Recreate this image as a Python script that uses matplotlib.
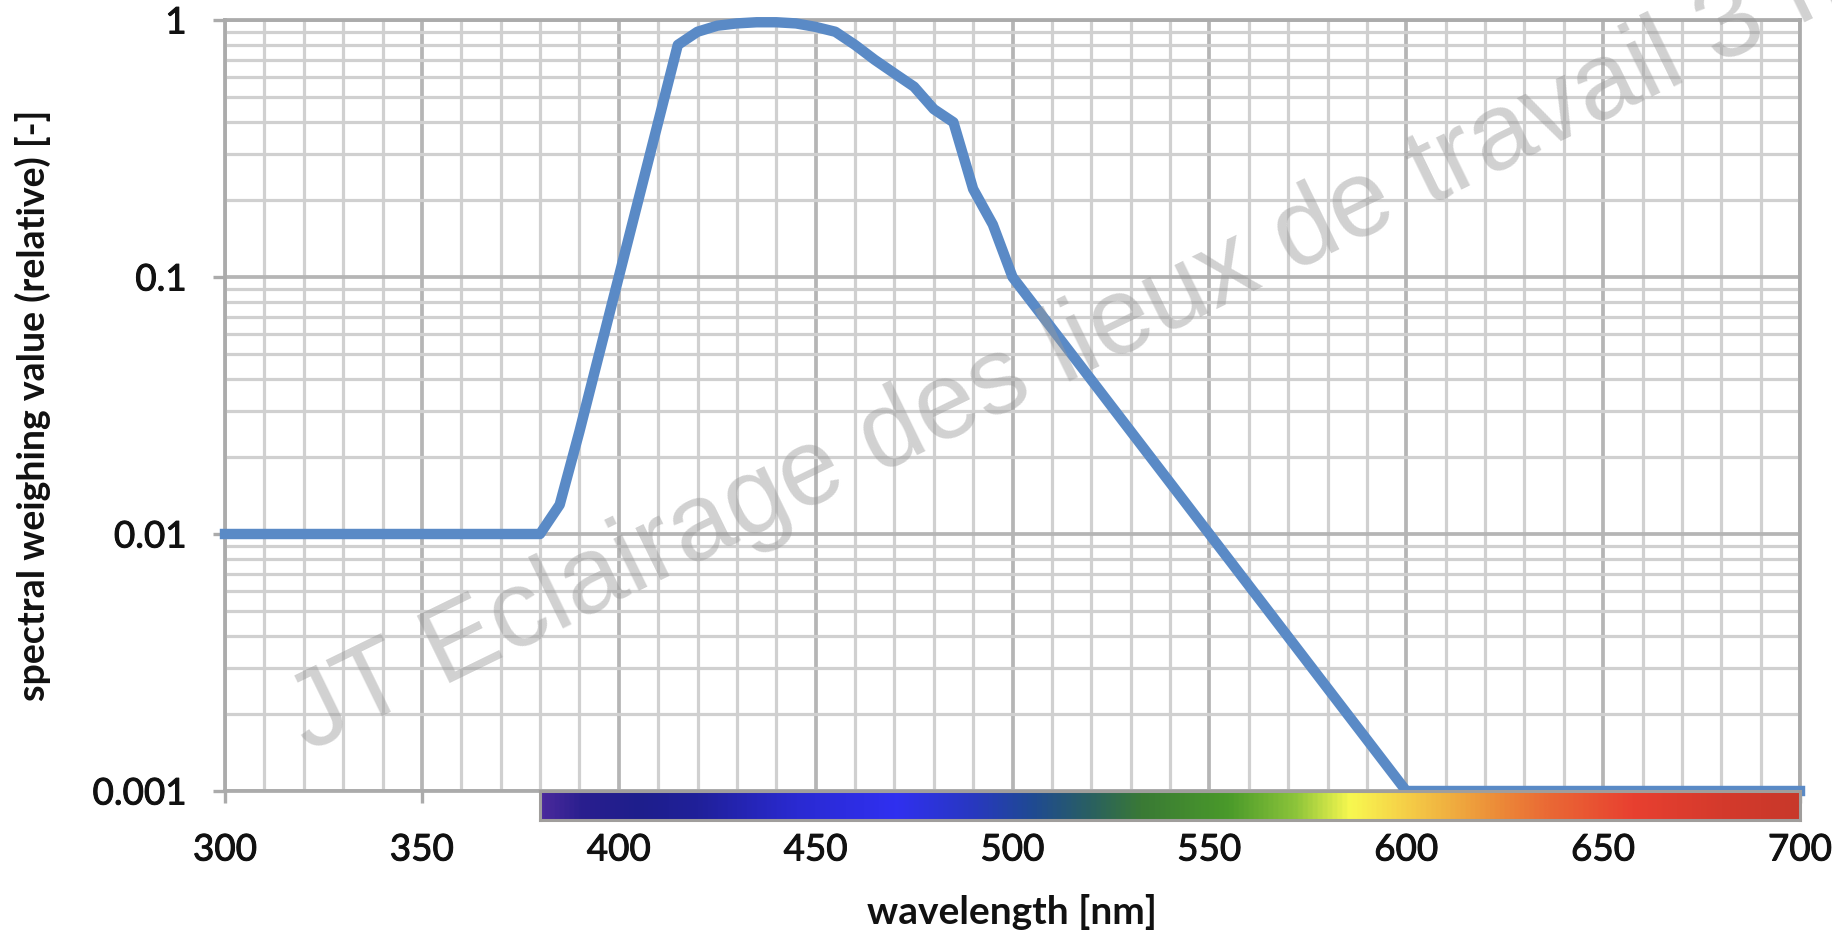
import numpy as np
import matplotlib
matplotlib.use("Agg")
import matplotlib.pyplot as plt
import matplotlib.patheffects as pe
from matplotlib.colors import LinearSegmentedColormap
from matplotlib.ticker import MultipleLocator, LogLocator, FixedLocator, FixedFormatter, NullFormatter

# blue light hazard weighting B(lambda)
wavelength = [300, 380, 385, 390, 395, 400, 405, 410, 415, 420, 425, 430, 435, 440,
              445, 450, 455, 460, 465, 470, 475, 480, 485, 490, 495, 500, 600, 700]
weighting = [0.01, 0.01, 0.013, 0.025, 0.05, 0.1, 0.2, 0.4, 0.8, 0.9, 0.95, 0.97, 0.98, 0.98,
             0.97, 0.94, 0.9, 0.8, 0.7, 0.62, 0.55, 0.45, 0.4, 0.22, 0.16, 0.1, 0.001, 0.001]

x_ticks = [300, 350, 400, 450, 500, 550, 600, 650, 700]
y_ticks = [0.001, 0.01, 0.1, 1]
y_tick_labels = ["0.001", "0.01", "0.1", "1"]

# spectrum strip under the axis (380-700 nm)
spec_start, spec_end = 380, 700
spec_nm = [380, 390, 405, 420, 445, 470, 490, 505, 520, 533, 555, 572, 586, 599, 611, 624, 636, 658, 681, 700]
spec_col = ["#4b2a9c", "#2a1f8f", "#1e1e8c", "#20209a", "#2a2ad2", "#3030f0", "#2838c0", "#1f4a92",
            "#2a6060", "#3a7a35", "#4a9a2a", "#8cc43a", "#f8f850", "#f6d248", "#f0b040", "#ec8a38",
            "#ea6a35", "#e84030", "#d43a2c", "#c8382a"]

watermark = "JT Eclairage des lieux de travail 3 mai"

fig = plt.figure(figsize=(18.32, 9.34), dpi=100)
ax = fig.add_axes([225/1832, 1-791/934, 1575/1832, 771/934])

ax.set_yscale("log")
ax.set_xlim(300, 700)
ax.set_ylim(0.001, 1)

ax.plot(wavelength, weighting, color="#5a8ac6", lw=7.5, solid_joinstyle="round", zorder=3, clip_on=False)

ax.xaxis.set_major_locator(FixedLocator(x_ticks))
ax.xaxis.set_minor_locator(MultipleLocator(10))
ax.yaxis.set_major_locator(FixedLocator(y_ticks))
ax.yaxis.set_major_formatter(FixedFormatter(y_tick_labels))
ax.yaxis.set_minor_locator(LogLocator(base=10, subs=np.arange(2, 10)))
ax.yaxis.set_minor_formatter(NullFormatter())

ax.grid(which="minor", color="#d0d0d0", lw=2.3)
ax.grid(which="major", color="#b5b5b5", lw=2.7)
ax.set_axisbelow(True)

for s in ax.spines.values():
    s.set_color("#ababab")
    s.set_linewidth(2.7)

ax.tick_params(which="major", direction="out", length=8.6, width=2.4, color="#ababab",
               labelsize=26.5)
ax.tick_params(axis="x", which="major", pad=22)
ax.tick_params(axis="y", which="major", pad=19)
ax.tick_params(which="minor", length=0)
for lab in ax.get_xticklabels() + ax.get_yticklabels():
    lab.set_fontfamily("Lato")
    lab.set_color("#111111")
    lab.set_path_effects([pe.withStroke(linewidth=0.7, foreground="#111111")])

# spectrum bar
cmap = LinearSegmentedColormap.from_list(
    "spec", [((n - spec_start) / (spec_end - spec_start), c) for n, c in zip(spec_nm, spec_col)])
bar = ax.inset_axes([(spec_start - 300) / 400, -29/771, (spec_end - spec_start) / 400, 29/771])
bar.imshow(np.linspace(0, 1, 512)[None, :], aspect="auto", cmap=cmap, extent=[0, 1, 0, 1])
bar.set_xticks([])
bar.set_yticks([])
for s in bar.spines.values():
    s.set_color("#a09e9c")
    s.set_linewidth(2.2)
bar.set_zorder(5)

fig.text(1012/1832, 1-912/934, "wavelength [nm]", ha="center", va="center",
         fontsize=28, fontweight="bold", family="Lato", color="#111111")
fig.text(33/1832, 1-405/934, "spectral weighing value (relative) [-]", ha="center", va="center",
         rotation=90, fontsize=27, fontweight="bold", family="Lato", color="#111111")

fig.text(308/1832, 1-752/934, watermark, rotation=26, rotation_mode="anchor",
         ha="left", va="baseline", fontsize=78.5, family="Liberation Sans",
         color="#9a9a9a", alpha=0.45, zorder=10)

fig.savefig("out.png", dpi=100)
